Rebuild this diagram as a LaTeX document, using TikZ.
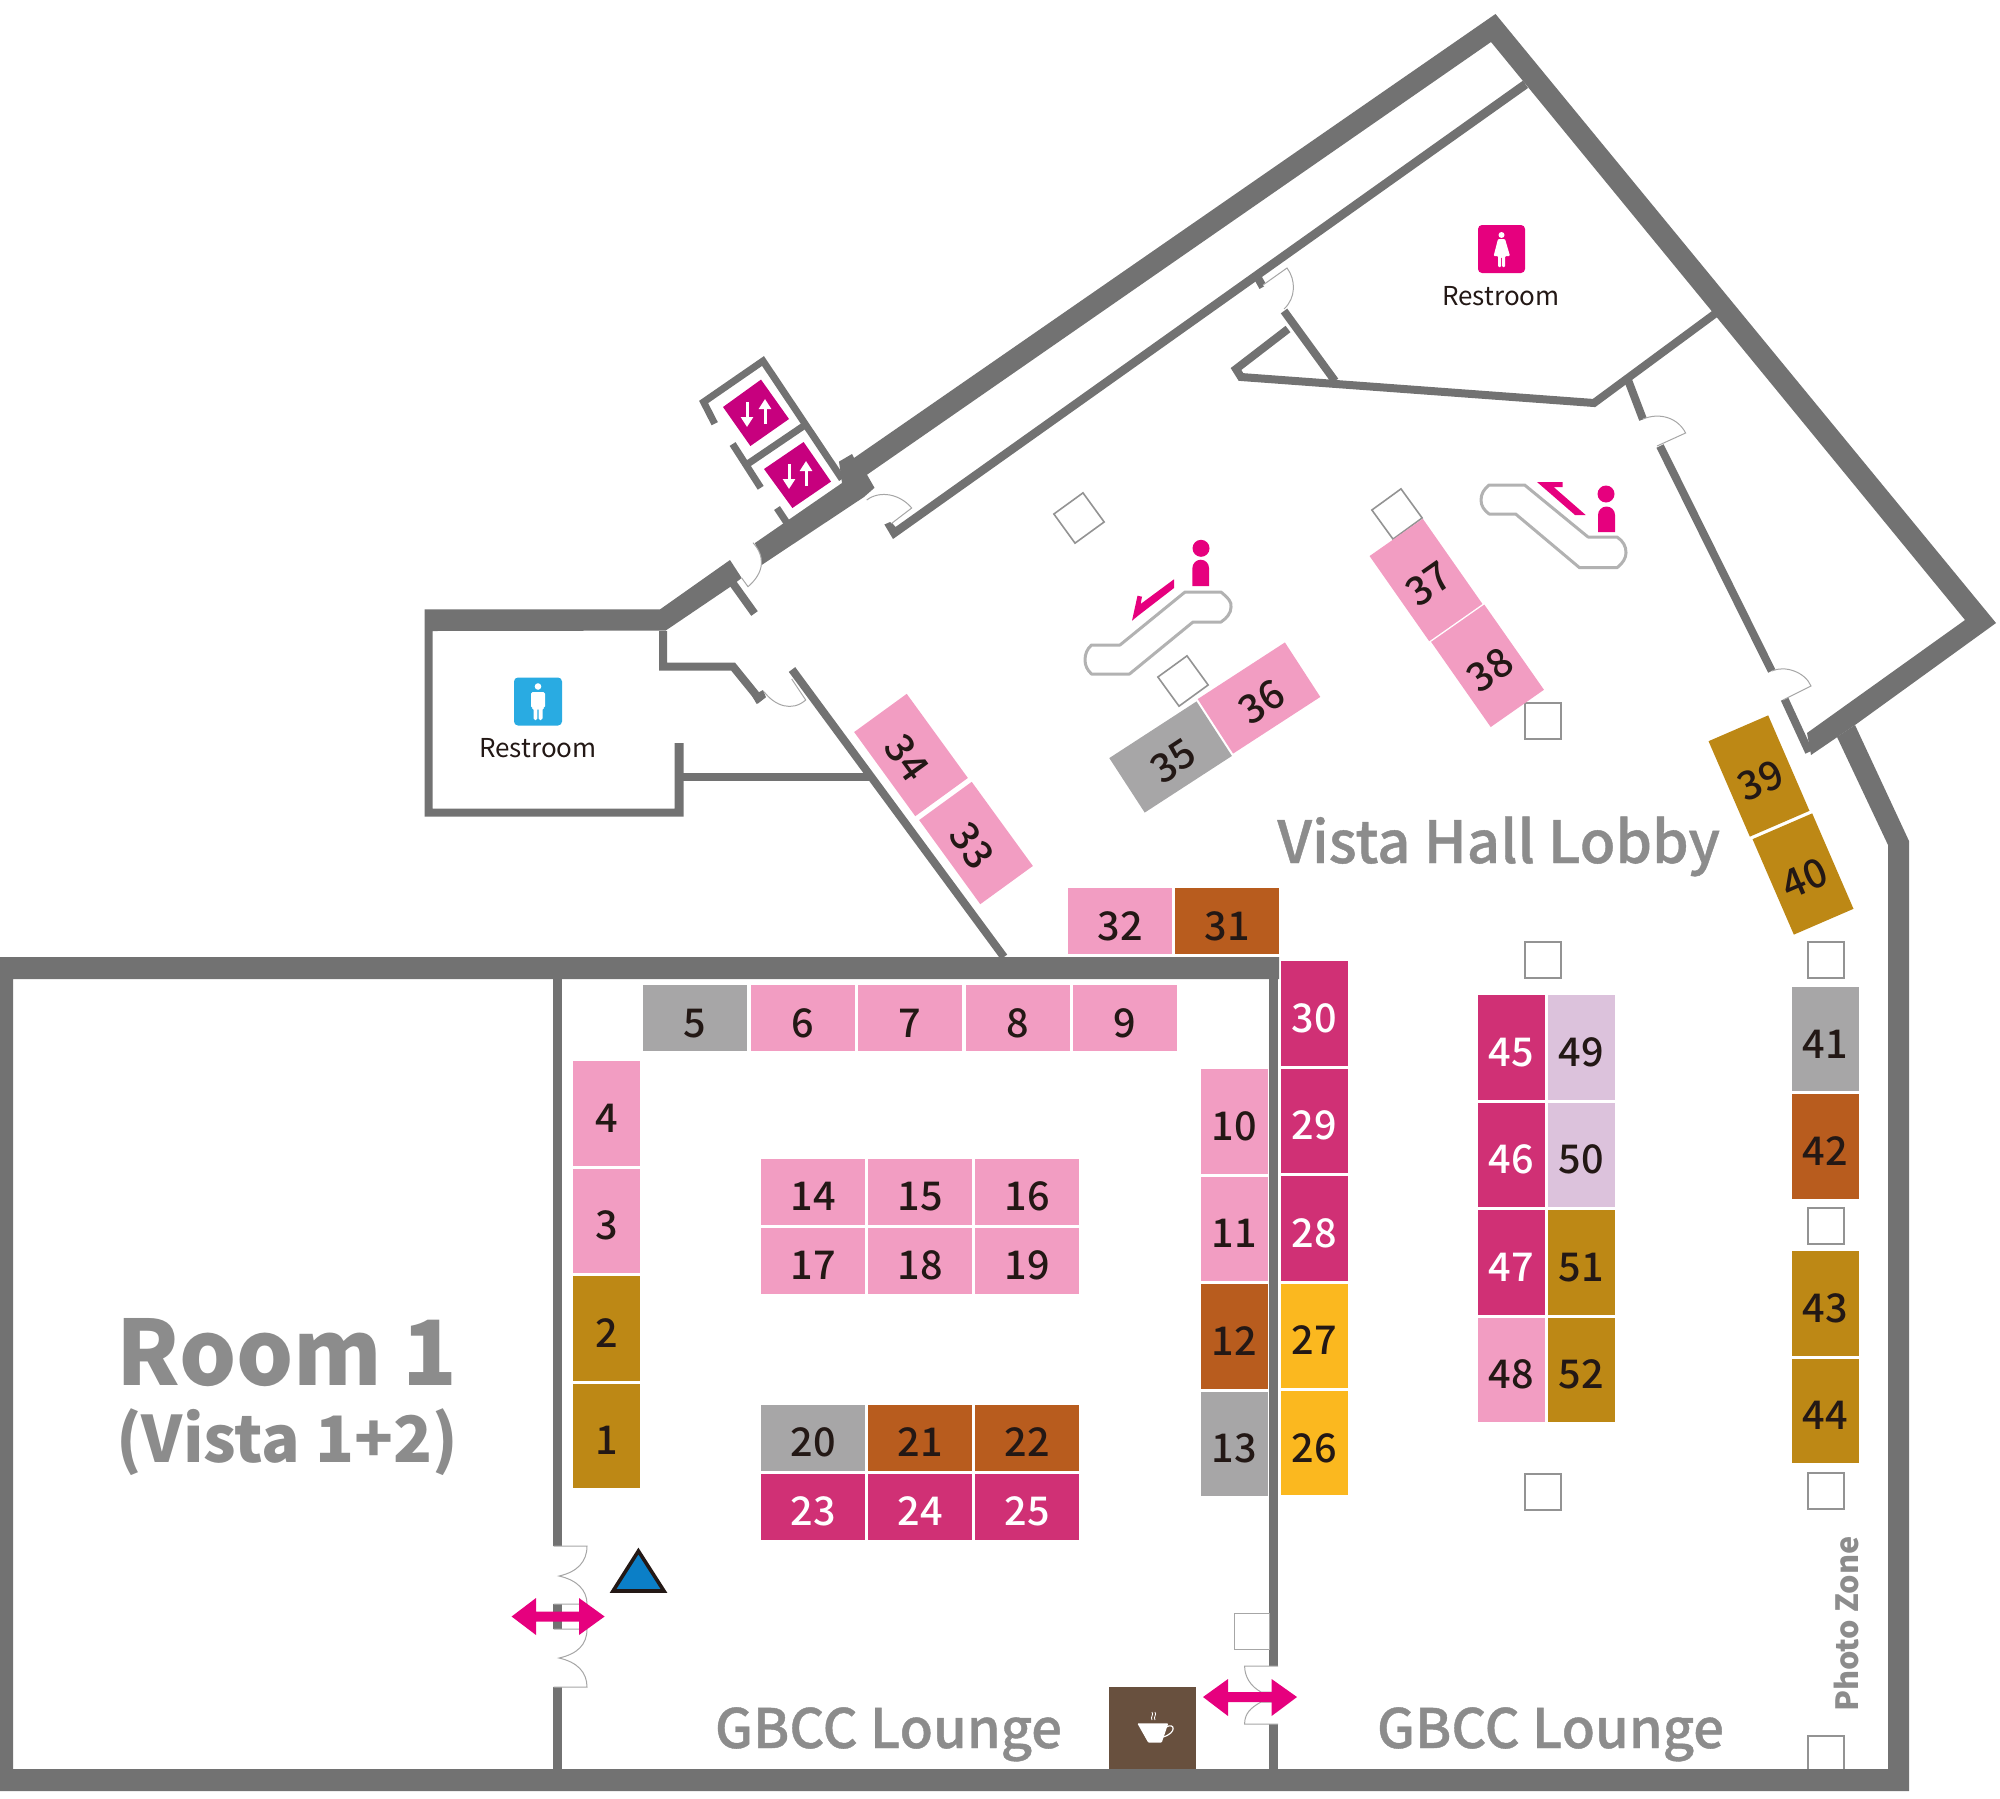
\documentclass[tikz,border=0pt]{standalone}
\usepackage{fontspec}
\setmainfont{Noto Sans CJK JP}
\newfontfamily\midfont{Noto Sans CJK JP Medium}
\newfontfamily\thickfont{Noto Sans CJK JP Medium}[FakeBold=0.7]
\usetikzlibrary{positioning,arrows.meta}
\definecolor{wallgray}{HTML}{727272}
\definecolor{labelgray}{HTML}{8C8C8C}
\definecolor{inkdark}{HTML}{231815}
\definecolor{pinkb}{HTML}{F29DC2}
\definecolor{rosab}{HTML}{D03075}
\definecolor{rustb}{HTML}{B85C1E}
\definecolor{goldb}{HTML}{BD8815}
\definecolor{yellowb}{HTML}{FBB81F}
\definecolor{grayb}{HTML}{A7A6A7}
\definecolor{lilacb}{HTML}{DCC2DC}
\definecolor{signpink}{HTML}{E6007E}
\definecolor{liftpink}{HTML}{C7007E}
\definecolor{signblue}{HTML}{29ABE2}
\definecolor{cafebrown}{HTML}{68503E}
\definecolor{spotblue}{HTML}{0B7FC7}
\tikzset{
  wall/.style={fill=wallgray},
  thinwall/.style={draw=wallgray,line width=4pt,line cap=butt,line join=miter},
  doorleaf/.style={draw=gray!70,line width=0.5pt,fill=white},
  booth/.style={inner sep=0pt,outer sep=0pt,text=inkdark,font=\midfont\fontsize{19.8}{20}\selectfont,text height=19pt,text depth=0pt},
  hbooth/.style={booth,minimum width=52pt,minimum height=33pt},
  vbooth/.style={booth,minimum width=33.5pt,minimum height=52.2pt},
  slant/.style={booth,minimum width=32.5pt,minimum height=52pt},
  slantw/.style={booth,minimum width=52pt,minimum height=32.5pt},
  pillar/.style={draw=gray!85,line width=0.8pt,fill=white,inner sep=0pt,minimum size=18pt},
  escal/.style={draw=gray!60,line width=1.5pt,fill=white,line join=round},
  roomname/.style={text=labelgray,font=\thickfont\fontsize{27.2}{28}\selectfont,anchor=base west,inner sep=0pt},
  restname/.style={text=inkdark,font=\fontsize{13}{14}\selectfont,anchor=base,inner sep=0pt},
  goarrow/.style={fill=signpink},
  liftarrow/.style={draw=white,line width=1.5pt,-{Triangle[width=6pt,length=5pt]}},
  node distance=1.5pt
}
\begin{document}
\begin{tikzpicture}[x=0.5pt,y=-0.5pt]
\useasboundingbox (0,0) rectangle (2000,1798);
% Room 1 and the outer walls
\fill[wall] (0,957) -- (1279,957) -- (1279,979) -- (13,979) -- (13,1769) -- (1888,1769) -- (1888,845)
  -- (1837,737) -- (1855,725) -- (1909,841) -- (1909,1791) -- (0,1791) -- cycle;
\fill[wall] (553,979) rectangle (561.5,1546);
\fill[wall] (553,1604) rectangle (561.5,1629);
\fill[wall] (553,1687) rectangle (561.5,1769);
\fill[wall] (1269,979) rectangle (1278,1666);
\fill[wall] (1269,1724) rectangle (1278,1769);
% thick band, top corner and right corner
\fill[wall] (755,543) -- (842,483) -- (839,461.6) -- (852,454) -- (854,458) -- (1495.5,14) -- (1996,623)
  -- (1855,725) -- (1811,755) -- (1807,733) -- (1965,620) -- (1491,42) -- (867,474.7) -- (874.5,487.8)
  -- (864,497) -- (761.6,565) -- cycle;
% mens room walls
\fill[wall] (424.5,609.4) -- (660,609.4) -- (730,560) -- (741.7,578) -- (730,587) -- (665.6,630.6)
  -- (432.6,631) -- (432.6,808.6) -- (674.5,808.6) -- (674.5,743) -- (683.5,743) -- (683.5,816.7) -- (424.5,816.7) -- cycle;
\draw[thinwall] (663,631) -- (663,666.5) -- (733,666.5) -- (761,701);
\fill[wall] (756.7,704) -- (766,697.3) -- (763,690) -- (752,696) -- cycle;
\draw[thinwall] (683,777) -- (869,777);
\draw[thinwall] (792,669.5) -- (1004,957);
\draw[thinwall] (733,583.5) -- (754.5,613.5);
% corridor wall
\fill[wall] (893,539) -- (1528,88) -- (1523,80.6) -- (895.5,527) -- (891,521.6) -- (884.4,524.5) -- cycle;
% womens room walls
\draw[thinwall] (1258,278) -- (1263,287);
\draw[thinwall] (1284,311) -- (1335,381);
\draw[thinwall] (1288,329) -- (1236,369) -- (1241,377) -- (1594,403) -- (1716,313);
% wall to the right of the lobby
\draw[thinwall] (1628,380) -- (1643,419.4);
\draw[thinwall] (1660,446) -- (1771.7,671);
\draw[thinwall] (1784.5,699) -- (1809,752);
% lift shafts
\draw[thinwall,line width=3.5pt] (714.7,423.7) -- (703.6,402) -- (763,361) -- (842,479);
\draw[thinwall,line width=3.5pt] (732.6,444) -- (760.7,487.8);
\draw[thinwall,line width=3.5pt] (748,463.7) -- (804,425.7);
\draw[thinwall,line width=3.5pt] (777,508) -- (787.5,523.7);
\fill[liftpink] (761,379.6) -- (789,419) -- (750.4,446) -- (723,407) -- cycle;
\fill[liftpink] (803.6,442) -- (831,481.6) -- (792.4,508) -- (764,469) -- cycle;
\draw[liftarrow] (747,402) -- (747,427);
\draw[liftarrow] (765,424) -- (765,399);
\draw[liftarrow] (789,464) -- (789,489);
\draw[liftarrow] (806,486) -- (806,461);
% doors
\path[doorleaf] (553.5,1546) -- (587,1546) .. controls (587,1562) and (577,1572) .. (559,1576)
  .. controls (577,1580) and (587,1590) .. (587,1604) -- (553.5,1604);
\path[doorleaf] (553.5,1629) -- (587,1629) .. controls (587,1645) and (577,1654) .. (559,1658)
  .. controls (577,1662) and (587,1672) .. (587,1687) -- (553.5,1687);
\path[doorleaf] (1278,1666) -- (1244.6,1666) .. controls (1244.6,1676) and (1250,1686) .. (1261,1692) -- (1278,1692);
\path[doorleaf] (1278,1724) -- (1244.6,1724) .. controls (1244.6,1714) and (1250,1708) .. (1261,1702) -- (1278,1702);
\path[doorleaf] (1234,1613) rectangle (1269,1649);
\path[doorleaf] (753,542.7) .. controls (765,556) and (765,572) .. (748,586.7) -- (741.7,578);
\path[doorleaf] (764,691.7) .. controls (775,706) and (792,712) .. (805.7,700) -- (791.7,679);
\path[doorleaf] (866.7,500) .. controls (880,490) and (900,494) .. (911.7,508) -- (891.7,523.3);
\path[doorleaf] (1263,285) -- (1287,268) .. controls (1296,280) and (1296,298) .. (1284,309);
\path[doorleaf] (1643,419) .. controls (1660,412) and (1678,418) .. (1685.6,433) -- (1657,446);
\path[doorleaf] (1771.7,671) .. controls (1785,665) and (1805,672) .. (1811,686) -- (1783,700);
% columns
\node[pillar] (cola) at (1079,518) [rotate=36] {};
\node[pillar] (colb) at (1397,514) [rotate=36] {};
\node[pillar] (colc) at (1183,681) [rotate=36] {};
\node[pillar] (cold) at (1543,721) {};
\node[pillar] (cole) at (1543,960) {};
\node[pillar] (colf) at (1826,960) {};
\node[pillar] (colg) at (1543,1492) {};
\node[pillar] (colh) at (1826,1226) {};
\node[pillar] (coli) at (1826,1491) {};
\path[pillar] (1808,1769) -- (1808,1736) -- (1844,1736) -- (1844,1769);
% escalators
\path[escal] (1185,592) -- (1221,592) .. controls (1228,598) and (1232,602) .. (1231,607) .. controls (1231,613) and (1227,618) .. (1221,622)
  -- (1193,622) -- (1129.5,674) -- (1091.5,674) .. controls (1087,670) and (1085,665) .. (1085,660) .. controls (1085,654) and (1087,649) .. (1091.5,645)
  -- (1120,645) -- cycle;
\path[escal] (1524.6,485) -- (1489,485) .. controls (1484,489) and (1481,494) .. (1481,500) .. controls (1481,506) and (1484,510) .. (1489,514)
  -- (1515.6,514) -- (1579.5,567.7) -- (1617,567.7) .. controls (1623,563) and (1626,558) .. (1626,552.7) .. controls (1626,546) and (1623,541) .. (1617,537)
  -- (1588,537) -- cycle;
\fill[signpink] (1201,548.3) circle (8.5);
\fill[signpink] (1192.4,586) -- (1192.4,568) arc (180:360:8.3) -- (1209,586) -- cycle;
\fill[signpink] (1606,494) circle (8.5);
\fill[signpink] (1598,532) -- (1598,515) arc (180:360:8.5) -- (1615,532) -- cycle;
\fill[signpink] (1174,579.3) -- (1174,588) -- (1139,615) -- (1132,620.7) -- (1137.5,595.7) -- (1142,596.7) -- (1140.6,604) -- cycle;
\fill[signpink] (1537,482) -- (1562.5,482) -- (1562.5,487) -- (1553.6,487) -- (1585.7,515) -- (1575,515) -- cycle;
% booths along the left wall
\node[vbooth,fill=pinkb] (b4) at (606.5,1113.5) {4};
\node[vbooth,fill=pinkb,below=of b4] (b3) {3};
\node[vbooth,fill=goldb,below=of b3] (b2) {2};
\node[vbooth,fill=goldb,below=of b2] (b1) {1};
% top row
\node[hbooth,fill=grayb] (b5) at (695,1018) {5};
\node[hbooth,fill=pinkb,right=1.75pt of b5] (b6) {6};
\node[hbooth,fill=pinkb,right=1.75pt of b6] (b7) {7};
\node[hbooth,fill=pinkb,right=1.75pt of b7] (b8) {8};
\node[hbooth,fill=pinkb,right=1.75pt of b8] (b9) {9};
% inner column and outer column
\node[vbooth,fill=pinkb] (b10) at (1234,1121.5) {10};
\node[vbooth,fill=pinkb,below=of b10] (b11) {11};
\node[vbooth,fill=rustb,below=of b11] (b12) {12};
\node[vbooth,fill=grayb,below=of b12] (b13) {13};
\node[vbooth,fill=rosab,text=white] (b30) at (1314.5,1013.5) {30};
\node[vbooth,fill=rosab,text=white,below=of b30] (b29) {29};
\node[vbooth,fill=rosab,text=white,below=of b29] (b28) {28};
\node[vbooth,fill=yellowb,below=of b28] (b27) {27};
\node[vbooth,fill=yellowb,below=of b27] (b26) {26};
% islands
\node[hbooth,fill=pinkb] (b14) at (813,1191.5) {14};
\node[hbooth,fill=pinkb,right=of b14] (b15) {15};
\node[hbooth,fill=pinkb,right=of b15] (b16) {16};
\node[hbooth,fill=pinkb,below=of b14] (b17) {17};
\node[hbooth,fill=pinkb,below=of b15] (b18) {18};
\node[hbooth,fill=pinkb,below=of b16] (b19) {19};
\node[hbooth,fill=grayb] (b20) at (813,1437.5) {20};
\node[hbooth,fill=rustb,right=of b20] (b21) {21};
\node[hbooth,fill=rustb,right=of b21] (b22) {22};
\node[hbooth,fill=rosab,text=white,below=of b20] (b23) {23};
\node[hbooth,fill=rosab,text=white,below=of b21] (b24) {24};
\node[hbooth,fill=rosab,text=white,below=of b22] (b25) {25};
\node[hbooth,fill=rustb] (b31) at (1227,921) {31};
\node[hbooth,fill=pinkb,left=of b31] (b32) {32};
% lobby, set at an angle
\node[slantw,fill=pinkb,rotate=-54] (b33) at (976,843) {33};
\node[slantw,fill=pinkb,rotate=-54] (b34) at (911,755) {34};
\node[slantw,fill=grayb,rotate=33] (b35) at (1170.6,757) {35};
\node[slantw,fill=pinkb,rotate=33] (b36) at (1259,698) {36};
\node[slant,fill=pinkb,rotate=35] (b37) at (1426,580) {37};
\node[slant,fill=pinkb,rotate=35] (b38) at (1487.5,665.8) {38};
\node[slant,fill=goldb,rotate=23.4] (b39) at (1759,776) {39};
\node[slant,fill=goldb,rotate=23.4] (b40) at (1803,874) {40};
% right of the lobby
\node[vbooth,fill=grayb] (b41) at (1825,1039) {41};
\node[vbooth,fill=rustb,below=of b41] (b42) {42};
\node[vbooth,fill=goldb] (b43) at (1825,1303.5) {43};
\node[vbooth,fill=goldb,below=of b43] (b44) {44};
\node[vbooth,fill=rosab,text=white] (b45) at (1511.5,1047.5) {45};
\node[vbooth,fill=rosab,text=white,below=of b45] (b46) {46};
\node[vbooth,fill=rosab,text=white,below=of b46] (b47) {47};
\node[vbooth,fill=pinkb,below=of b47] (b48) {48};
\node[vbooth,fill=lilacb] (b49) at (1581.5,1047.5) {49};
\node[vbooth,fill=lilacb,below=of b49] (b50) {50};
\node[vbooth,fill=goldb,below=of b50] (b51) {51};
\node[vbooth,fill=goldb,below=of b51] (b52) {52};
% names of the rooms
\node[text=labelgray,font=\bfseries\fontsize{45}{46}\selectfont,anchor=base] (room) at (287,1385) {Room 1};
\node[text=labelgray,font=\bfseries\fontsize{32}{33}\selectfont,anchor=base] (vista) at (287,1462) {(Vista 1+2)};
\node[roomname,font=\thickfont\fontsize{29.1}{30}\selectfont] (lobby) at (1277,863) {Vista Hall Lobby};
\node[roomname] (lounge) at (714.5,1748) {GBCC Lounge};
\node[roomname] (loungeb) at (1376.5,1748) {GBCC Lounge};
\node[text=labelgray,font=\bfseries\fontsize{15.3}{17}\selectfont,rotate=90,anchor=base,inner sep=0pt] (photo) at (1858,1624) {Photo Zone};
% restroom signs
\node[fill=signblue,rounded corners=2pt,minimum width=24pt,minimum height=24pt,inner sep=0pt] (mensign) at (538,701.5) {};
\fill[white] (538,686.5) circle (3.3);
\fill[white,rounded corners=0.8pt] (531,692) -- (545,692) -- (545,708) -- (542.5,708) -- (542.5,720) -- (538.6,720) -- (538.6,708) -- (537.4,708)
  -- (537.4,720) -- (533.5,720) -- (533.5,708) -- (531,708) -- cycle;
\node[restname] (menname) at (538,757) {Restroom};
\node[fill=signpink,rounded corners=2pt,minimum width=23.5pt,minimum height=24pt,inner sep=0pt] (ladysign) at (1501.5,249) {};
\fill[white] (1501.5,235) circle (3);
\fill[white,rounded corners=0.5pt] (1498,239) -- (1505,239) -- (1510,256) -- (1505,256) -- (1505,267) -- (1502,267) -- (1502,257) -- (1501,257)
  -- (1501,267) -- (1498,267) -- (1498,256) -- (1493.6,256) -- cycle;
\node[restname] (ladyname) at (1501,305) {Restroom};
% way arrows and marker
\fill[goarrow] (511.6,1616.5) -- (536,1598) -- (536,1611.5) -- (579,1611.5) -- (579,1598) -- (604.6,1616.5) -- (579,1635)
  -- (579,1621.5) -- (536,1621.5) -- (536,1635) -- cycle;
\fill[goarrow] (1203,1697) -- (1228,1679) -- (1228,1692) -- (1271.6,1692) -- (1271.6,1679) -- (1297,1697) -- (1271.6,1716)
  -- (1271.6,1702) -- (1228,1702) -- (1228,1716) -- cycle;
\draw[fill=spotblue,draw=inkdark,line width=1.8pt,line join=miter] (638.4,1551) -- (664,1591) -- (613,1591) -- cycle;
% cafe
\node[fill=cafebrown,minimum width=43.5pt,minimum height=41pt,inner sep=0pt] (cafe) at (1152.5,1728) {};
\fill[white,rounded corners=0.5pt] (1137.3,1723.3) -- (1168.3,1723.3) -- (1161.7,1742.7) -- (1148.3,1742.7) -- cycle;
\draw[white,line width=0.6pt] (1166,1727) .. controls (1175,1722) and (1177,1733) .. (1163,1737);
\draw[white,line width=0.4pt] (1152,1720) .. controls (1150,1717) and (1154,1715) .. (1152,1712);
\draw[white,line width=0.4pt] (1155,1720) .. controls (1153,1717) and (1157,1715) .. (1155,1712);
\end{tikzpicture}
\end{document}
